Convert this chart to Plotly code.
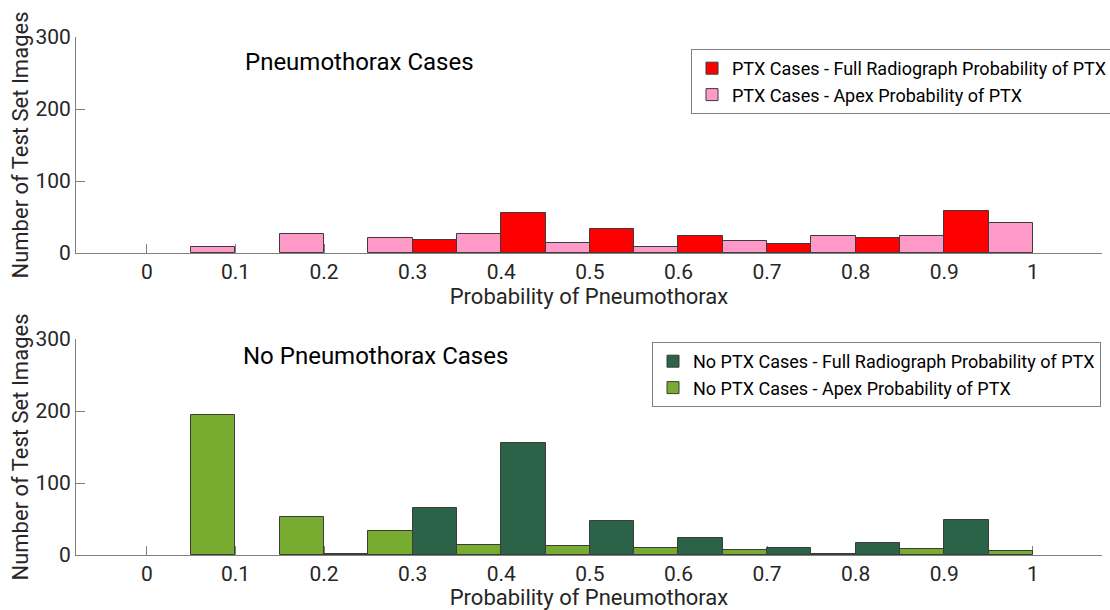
import plotly.graph_objects as go

# Bin centres (group positions)
bins = [0.1, 0.2, 0.3, 0.4, 0.5, 0.6, 0.7, 0.8, 0.9, 1.0]

# Pneumothorax cases
ptx_full = [0, 0, 18, 56, 33, 23, 12, 21, 59, 0]
ptx_apex = [9, 27, 21, 26, 14, 8, 17, 23, 23, 42]

# No pneumothorax cases
noptx_full = [0, 1, 65, 155, 47, 24, 10, 16, 48, 0]
noptx_apex = [195, 53, 34, 14, 12, 10, 7, 2, 9, 5]

x_ticks = [0, 0.1, 0.2, 0.3, 0.4, 0.5, 0.6, 0.7, 0.8, 0.9, 1]
x_ticktext = ["0", "0.1", "0.2", "0.3", "0.4", "0.5", "0.6", "0.7", "0.8", "0.9", "1"]
y_ticks = [0, 100, 200, 300]

RED = "#FF0000"
PINK = "#FF99C8"
DKGREEN = "#2A6347"
LTGREEN = "#77AC30"
EDGE = "#3C3C3C"
FONT = "Roboto"

fig = go.Figure()

def nz(vals):
    # empty bins are not drawn (no outline)
    return [v if v != 0 else None for v in vals]

def bar(x, y, name, color, offset, xa, ya, legend, rank):
    return go.Bar(x=x, y=nz(y), name=name, width=0.05, offset=offset,
                  marker=dict(color=color, line=dict(color=EDGE, width=1)),
                  xaxis=xa, yaxis=ya, legend=legend, legendrank=rank)

fig.add_trace(bar(bins, ptx_apex, "PTX Cases - Apex Probability of PTX", PINK, -0.05, "x", "y", "legend", 2))
fig.add_trace(bar(bins, ptx_full, "PTX Cases - Full Radiograph Probability of PTX", RED, 0.0, "x", "y", "legend", 1))
fig.add_trace(bar(bins, noptx_apex, "No PTX Cases - Apex Probability of PTX", LTGREEN, -0.05, "x2", "y2", "legend2", 2))
fig.add_trace(bar(bins, noptx_full, "No PTX Cases - Full Radiograph Probability of PTX", DKGREEN, 0.0, "x2", "y2", "legend2", 1))

W, H = 1110, 610
ml, mr = 76, 8

def dom(top_px, bot_px):
    return [1 - bot_px / H, 1 - top_px / H]

TXT = "#262626"
xax = dict(range=[-0.08, 1.078], tickvals=x_ticks, ticktext=x_ticktext,
           ticks="inside", ticklen=9, tickcolor="#808080", tickwidth=1,
           showline=True, linecolor="#808080", linewidth=1, showgrid=False,
           zeroline=False, layer="below traces", automargin=False,
           tickfont=dict(family=FONT, size=21, color=TXT),
           title=dict(text="Probability of Pneumothorax", standoff=2,
                      font=dict(family=FONT, size=22, color=TXT)))
yax = dict(range=[0, 300], tickvals=y_ticks, ticks="inside", ticklen=9,
           tickcolor="#808080", tickwidth=1, showline=True, linecolor="#808080",
           linewidth=1, showgrid=False, zeroline=False, layer="below traces",
           automargin=False,
           tickfont=dict(family=FONT, size=21, color=TXT),
           title=dict(text="Number of Test Set Images", standoff=0,
                      font=dict(family=FONT, size=22, color=TXT)))

legstyle = dict(bgcolor="white", bordercolor="#808080", borderwidth=1,
                font=dict(family=FONT, size=18, color="black"),
                xanchor="left", yanchor="top", tracegroupgap=0,
                xref="container", yref="container",
                itemclick=False, itemwidth=30)

fig.update_layout(
    width=W, height=H,
    margin=dict(l=ml, r=mr, t=0, b=0, autoexpand=False),
    paper_bgcolor="white", plot_bgcolor="white",
    barmode="overlay", bargap=0,
    xaxis=dict(domain=[0, 1], anchor="y", **xax),
    yaxis=dict(domain=dom(37, 253), anchor="x", **yax),
    xaxis2=dict(domain=[0, 1], anchor="y2", **xax),
    yaxis2=dict(domain=dom(339, 555), anchor="x2", **yax),
    legend=dict(x=691 / W, y=1 - 49 / H, **legstyle),
    legend2=dict(x=652 / W, y=1 - 342 / H, **legstyle),
    annotations=[
        dict(text="Pneumothorax Cases", x=0.24, y=265, xref="x", yref="y",
             showarrow=False, font=dict(family=FONT, size=24, color="black")),
        dict(text="No Pneumothorax Cases", x=0.258, y=276, xref="x2", yref="y2",
             showarrow=False, font=dict(family=FONT, size=24, color="black")),
    ],
)

fig.write_html("out.html")
